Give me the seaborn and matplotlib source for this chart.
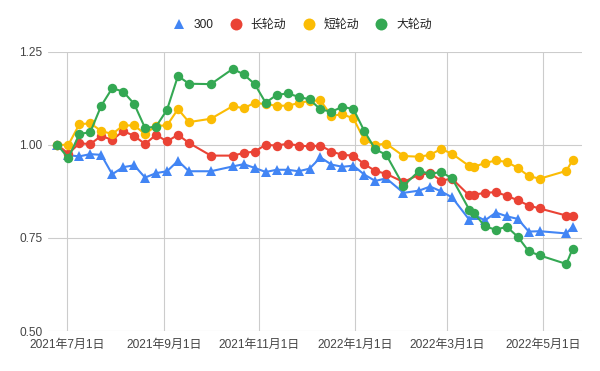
import matplotlib
matplotlib.use("Agg")
import matplotlib.pyplot as plt
from matplotlib.lines import Line2D
import pandas as pd
import seaborn as sns

# ---- data ----
dates = [
    "2021-06-25", "2021-07-02", "2021-07-09", "2021-07-16", "2021-07-23", "2021-07-30",
    "2021-08-06", "2021-08-13", "2021-08-20", "2021-08-27", "2021-09-03", "2021-09-10",
    "2021-09-17", "2021-10-01", "2021-10-15", "2021-10-22", "2021-10-29", "2021-11-05",
    "2021-11-12", "2021-11-19", "2021-11-26", "2021-12-03", "2021-12-10", "2021-12-17",
    "2021-12-24", "2021-12-31", "2022-01-07", "2022-01-14", "2022-01-21", "2022-02-01",
    "2022-02-11", "2022-02-18", "2022-02-25", "2022-03-04", "2022-03-15", "2022-03-18",
    "2022-03-25", "2022-04-01", "2022-04-08", "2022-04-15", "2022-04-22", "2022-04-29",
    "2022-05-16", "2022-05-20",
]
s300 = [
    1.000, 0.972, 0.969, 0.975, 0.973, 0.921, 0.940, 0.945, 0.912, 0.924, 0.929, 0.957,
    0.929, 0.929, 0.942, 0.948, 0.938, 0.927, 0.933, 0.933, 0.929, 0.936, 0.966, 0.947,
    0.941, 0.944, 0.920, 0.903, 0.910, 0.871, 0.877, 0.888, 0.875, 0.859, 0.799, 0.812,
    0.797, 0.818, 0.808, 0.801, 0.767, 0.768, 0.762, 0.780,
]
long_rot = [
    1.000, 0.976, 1.004, 1.002, 1.024, 1.013, 1.037, 1.024, 1.002, 1.027, 1.009, 1.027,
    1.005, 0.971, 0.971, 0.978, 0.982, 1.000, 0.998, 1.003, 0.998, 0.996, 0.998, 0.982,
    0.973, 0.971, 0.948, 0.930, 0.922, 0.900, 0.920, 0.923, 0.904, 0.909, 0.864, 0.866,
    0.871, 0.873, 0.863, 0.851, 0.837, 0.829, 0.810, 0.810,
]
short_rot = [
    1.000, 1.000, 1.055, 1.058, 1.037, 1.029, 1.052, 1.052, 1.029, 1.051, 1.052, 1.096,
    1.061, 1.070, 1.104, 1.098, 1.113, 1.109, 1.105, 1.105, 1.112, 1.118, 1.119, 1.078,
    1.082, 1.071, 1.013, 1.000, 1.003, 0.970, 0.968, 0.973, 0.989, 0.976, 0.943, 0.941,
    0.951, 0.958, 0.954, 0.938, 0.916, 0.909, 0.930, 0.959,
]
big_rot = [
    1.000, 0.964, 1.029, 1.034, 1.105, 1.152, 1.143, 1.110, 1.045, 1.049, 1.094, 1.185,
    1.164, 1.163, 1.204, 1.189, 1.163, 1.113, 1.134, 1.138, 1.129, 1.122, 1.095, 1.089,
    1.102, 1.096, 1.037, 0.988, 0.973, 0.890, 0.930, 0.922, 0.927, 0.910, 0.826, 0.817,
    0.781, 0.772, 0.780, 0.753, 0.714, 0.703, 0.680, 0.721,
]
series_names = ["300", "长轮动", "短轮动", "大轮动"]
colors = ["#4285F4", "#EA4335", "#FBBC04", "#34A853"]
x_tick_dates = ["2021-07-01", "2021-09-01", "2021-11-01", "2022-01-01", "2022-03-01", "2022-05-01"]
x_tick_labels = ["2021年7月1日", "2021年9月1日", "2021年11月1日", "2022年1月1日", "2022年3月1日", "2022年5月1日"]
y_ticks = [0.50, 0.75, 1.00, 1.25]
y_tick_labels = ["0.50", "0.75", "1.00", "1.25"]

# ---- style ----
sns.set_style("white")
plt.rcParams["font.family"] = ["Liberation Sans", "Noto Sans CJK SC", "DejaVu Sans"]

wide = pd.DataFrame({
    "date": pd.to_datetime(dates),
    "300": s300,
    "长轮动": long_rot,
    "短轮动": short_rot,
    "大轮动": big_rot,
})
df = wide.melt(id_vars="date", var_name="series", value_name="value")

fig = plt.figure(figsize=(6.0, 3.71), dpi=100)
ax = fig.add_axes([0.08, 0.1078, 0.89, 0.7528])

markers = {"300": "^", "长轮动": "o", "短轮动": "o", "大轮动": "o"}
msizes = {"300": 7.5, "长轮动": 6.8, "短轮动": 6.8, "大轮动": 6.8}
for name, col in zip(series_names, colors):
    sub = df[df["series"] == name]
    sns.lineplot(data=sub, x="date", y="value", color=col, marker=markers[name],
                 markersize=msizes[name], markeredgewidth=0, linewidth=1.5,
                 legend=False, ax=ax, sort=True)

ax.set_ylim(0.5, 1.25)
ax.set_xlim(pd.Timestamp("2021-06-19"), pd.Timestamp("2022-05-26"))
ax.set_yticks(y_ticks)
ax.set_yticklabels(y_tick_labels)
ax.set_xticks(pd.to_datetime(x_tick_dates))
ax.set_xticklabels(x_tick_labels)
ax.set_xlabel("")
ax.set_ylabel("")
ax.grid(True, color="#cccccc", linewidth=0.8)
ax.set_axisbelow(True)
for sp in ax.spines.values():
    sp.set_visible(False)
ax.tick_params(axis="both", length=0, labelsize=8.6, colors="#444444")
ax.tick_params(axis="x", pad=6)
ax.tick_params(axis="y", pad=4)

handles = []
for name, col in zip(series_names, colors):
    handles.append(Line2D([], [], linestyle="none", marker=markers[name], color=col,
                          markersize=7 if name == "300" else 8.6, markeredgewidth=0))
fig.legend(handles, series_names, loc="center", bbox_to_anchor=(0.505, 0.933), ncol=4,
           frameon=False, fontsize=8.6, handlelength=0.8, handletextpad=0.85,
           columnspacing=1.45, labelcolor="#222222")

fig.savefig("out.png", dpi=100)
